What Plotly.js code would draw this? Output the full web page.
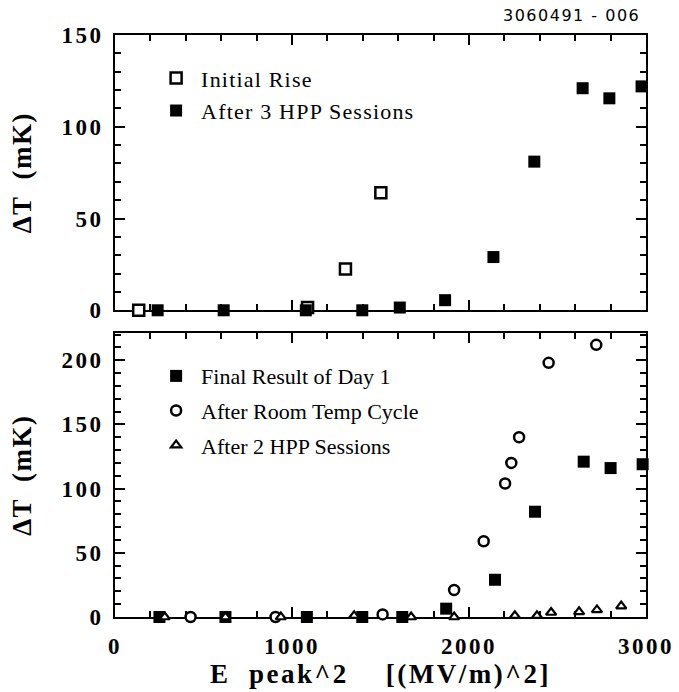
<!DOCTYPE html>
<html><head><meta charset="utf-8">
<script src="https://cdn.plot.ly/plotly-3.0.1.min.js"></script>
<style>
body{margin:0;background:#fff}
#chart{width:679px;height:692px}
.xtick text,.x2tick text,.ytick text,.y2tick text{letter-spacing:2.5px}
.x2title{letter-spacing:2.5px}
.ytitle,.y2title{letter-spacing:1.5px}
.legendtext{letter-spacing:1.2px}
.annotation-text{letter-spacing:1.5px}
</style></head><body><div id="chart"></div>
<script>
// Top panel
const initialX = [134, 1088, 1302, 1502];
const initialY = [0, 1.5, 22.5, 64];
const hpp3X = [241, 614, 1078, 1397, 1609, 1865, 2138, 2369, 2642, 2793, 2975];
const hpp3Y = [0, 0, 0, 0, 1.5, 5.5, 29, 81, 121, 115.5, 122];
// Bottom panel
const day1X = [251, 624, 1084, 1397, 1623, 1871, 2147, 2373, 2648, 2800, 2981];
const day1Y = [0, 0, 0, 0, 0, 6.5, 29, 82, 121, 116, 119];
const roomX = [427, 907, 1512, 1916, 2083, 2204, 2239, 2283, 2450, 2719];
const roomY = [0, 0, 2, 21, 59, 104, 120, 140, 198, 212];
const hpp2X = [281, 624, 937, 1351, 1673, 1916, 2259, 2384, 2464, 2622, 2723, 2860];
const hpp2Y = [0, 0, 0, 1, 0, 0, 1, 1, 3.5, 4, 5.5, 8.5];

const names = ['Initial Rise', 'After 3 HPP Sessions', 'Final Result of Day 1', 'After Room Temp Cycle', 'After 2 HPP Sessions'];
const yTitle = 'ΔT  (mK)';
const xTitle = 'E  peak^2    [(MV/m)^2]';
const figId = '3060491 - 006';

const serif = 'Liberation Serif, Times New Roman, serif';
const tickFont = {family: serif, size: 23, weight: 'bold', color: '#000'};
const titleFont = {family: serif, size: 27, weight: 'bold', color: '#000'};

function mk(x, y, nm, sym, fill, size, lw, xa, ya, leg, grp) {
  return {x: x, y: y, name: nm, type: 'scatter', mode: 'markers', xaxis: xa, yaxis: ya,
    legend: leg, legendgroup: grp, cliponaxis: false,
    marker: {symbol: sym, color: fill, size: size, line: {color: '#000', width: lw}}};
}
const traces = [
  mk(initialX, initialY, names[0], 'square', '#fff', 11, 2.5, 'x', 'y', 'legend', 'a'),
  mk(hpp3X, hpp3Y, names[1], 'square', '#000', 12, 0, 'x', 'y', 'legend', 'b'),
  mk(day1X, day1Y, names[2], 'square', '#000', 12, 0, 'x2', 'y2', 'legend2', 'c'),
  mk(roomX, roomY, names[3], 'circle', '#fff', 10, 2.5, 'x2', 'y2', 'legend2', 'd'),
  mk(hpp2X, hpp2Y, names[4], 'triangle-up', '#fff', 9, 2.2, 'x2', 'y2', 'legend2', 'e')
];

function xa(anchor, labels) {
  return {anchor: anchor, range: [0, 3000], showgrid: false, zeroline: false,
    showline: true, linecolor: '#000', linewidth: 2, mirror: 'allticks',
    ticks: 'inside', ticklen: 10, tickwidth: 2, tickcolor: '#000',
    tickmode: 'linear', tick0: 0, dtick: 1000, showticklabels: labels,
    tickfont: tickFont, ticklabelstandoff: 7,
    minor: {dtick: 200, tick0: 0, ticks: 'inside', ticklen: 6, tickwidth: 2, tickcolor: '#000', showgrid: false},
    layer: 'below traces'};
}
function ya(anchor, dom, rng) {
  return {anchor: anchor, domain: dom, range: rng, showgrid: false, zeroline: false,
    showline: true, linecolor: '#000', linewidth: 2, mirror: 'allticks',
    ticks: 'inside', ticklen: 10, tickwidth: 2, tickcolor: '#000',
    tickmode: 'linear', tick0: 0, dtick: 50, tickfont: tickFont, ticklabelstandoff: 5,
    minor: {dtick: 10, tick0: 0, ticks: 'inside', ticklen: 6, tickwidth: 2, tickcolor: '#000', showgrid: false},
    title: {text: yTitle, font: titleFont, standoff: 22},
    layer: 'below traces'};
}

const legFont = {family: serif, size: 22, color: '#000'};
const layout = {
  width: 679, height: 692,
  margin: {l: 115, r: 33, t: 35, b: 75},
  paper_bgcolor: '#fff', plot_bgcolor: 'rgba(0,0,0,0)',
  xaxis: xa('y', false),
  yaxis: ya('x', [0.527, 1], [0, 150]),
  xaxis2: Object.assign(xa('y2', true), {title: {text: xTitle, font: titleFont, standoff: 4}}),
  yaxis2: ya('x2', [0, 0.4875], [0, 221]),
  showlegend: true,
  legend: {x: 0.068, y: 0.962, xanchor: 'left', yanchor: 'top', bgcolor: 'rgba(0,0,0,0)',
    font: legFont, traceorder: 'grouped', tracegroupgap: 1, itemwidth: 40},
  legend2: {x: 0.068, y: 0.45, xanchor: 'left', yanchor: 'top', bgcolor: 'rgba(0,0,0,0)',
    font: legFont, traceorder: 'grouped', tracegroupgap: 3, itemwidth: 40},
  annotations: [{text: figId, xref: 'paper', yref: 'paper', x: 0.86, y: 1.034,
    xanchor: 'center', yanchor: 'middle', showarrow: false,
    font: {family: 'DejaVu Sans, sans-serif', size: 16, color: '#000'}}]
};
Plotly.newPlot('chart', traces, layout, {displayModeBar: false, staticPlot: true});
</script></body></html>
